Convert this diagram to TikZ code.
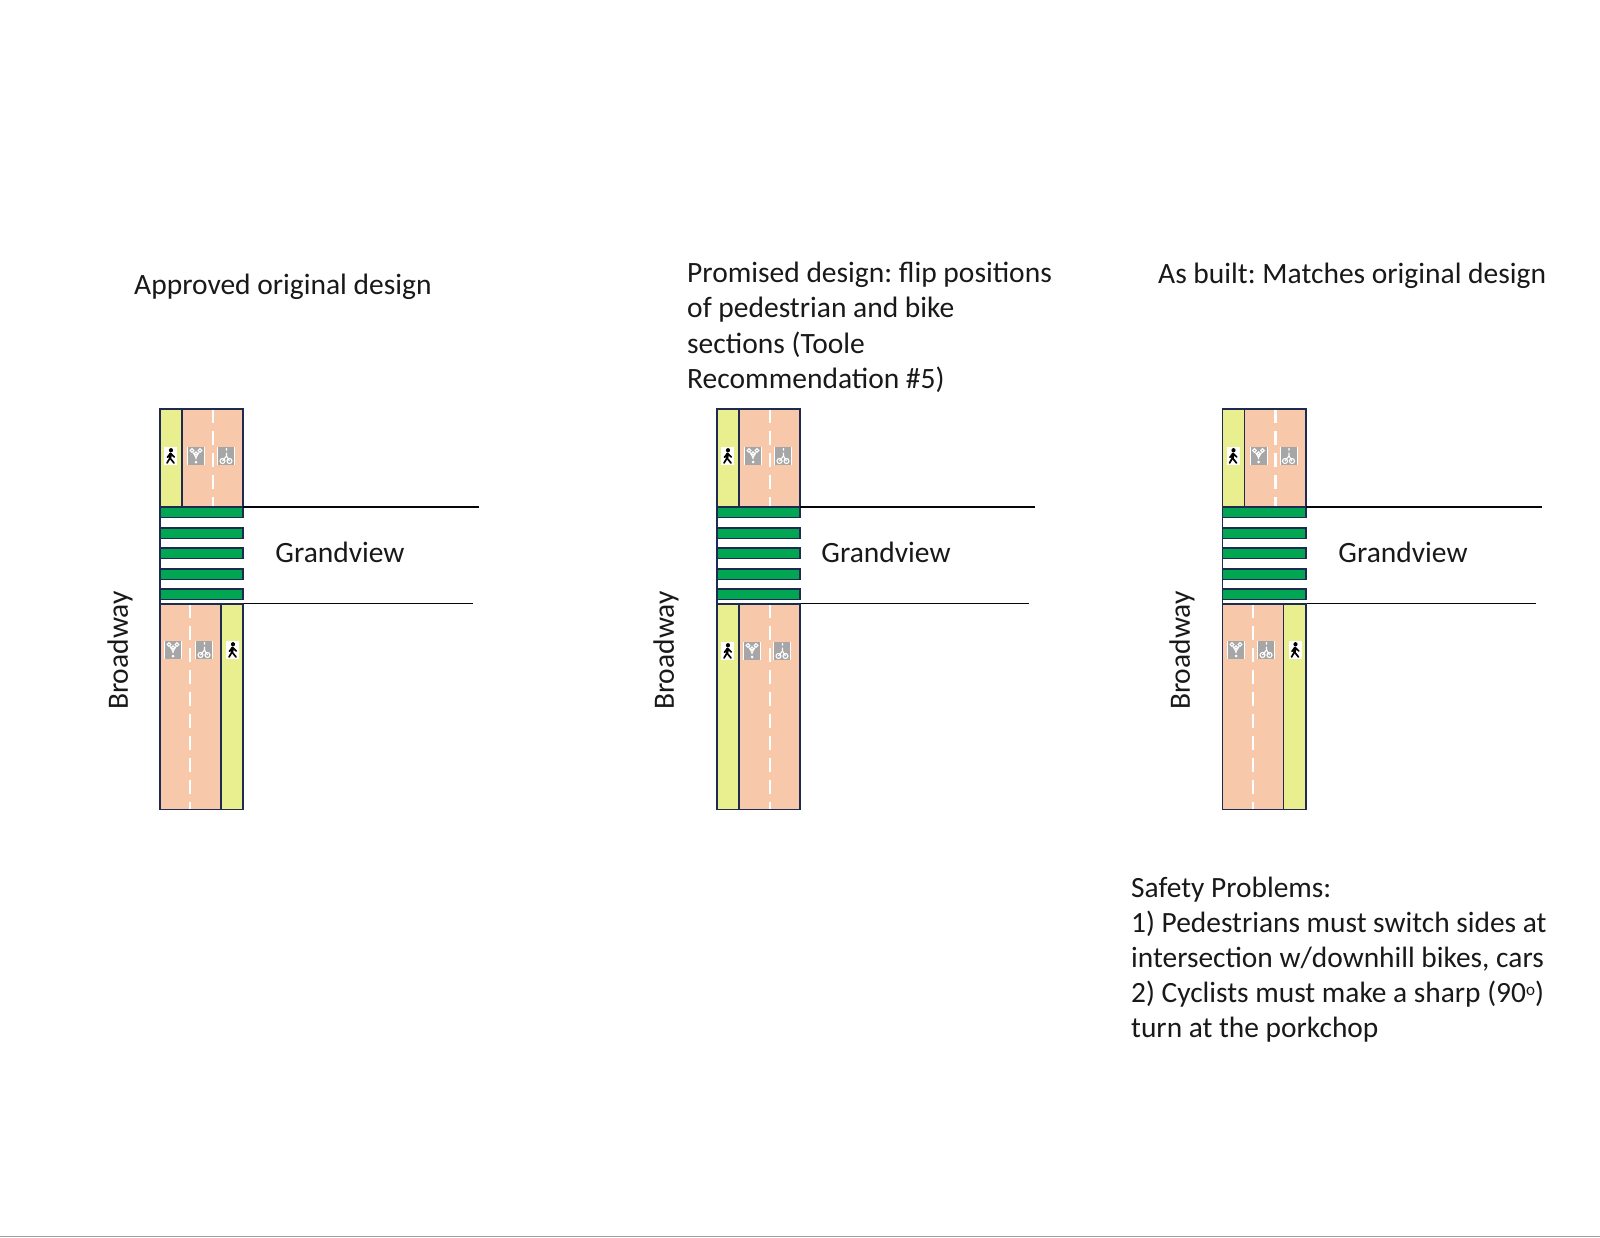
\documentclass[tikz,border=0pt]{standalone}
\usepackage{fontspec}
\setmainfont{Carlito}
\definecolor{road}{HTML}{F7C8AA}
\definecolor{walk}{HTML}{E9EE8E}
\definecolor{bar}{HTML}{00A651}
\definecolor{edge}{HTML}{1F2A50}
\definecolor{sign}{HTML}{A6A6A6}
\tikzset{
  outline/.style={draw=edge,line width=1.8pt},
  roadline/.style={draw=black!85!edge,line width=1.8pt},
  lane/.style={draw=white,line width=2.8pt,dash pattern=on 14pt off 8pt},
  crossbar/.style={fill=bar,draw=edge,line width=1.7pt},
  label/.style={inner sep=0pt,font=\fontsize{29.5}{35.2}\selectfont,text=black!90},
  para/.style={label,align=left,anchor=north west},
  signbase/.style={fill=sign,draw=none},
  glyph/.style={draw=white,line width=1.1pt}
}
% lane signs: #1 left x, #2 top y
\newcommand{\ringsign}[2]{%
  \begin{scope}[shift={(#1,#2)}]
    \fill[signbase] (0,0) rectangle (18,18);
    \draw[glyph] (5,3.5) circle (1.9) (13,3.5) circle (1.9) (9,6.5) circle (1.6);
    \draw[glyph] (6,5.5) -- (9,10.5) -- (12,5.5) (9,10.5) -- (9,12);
    \fill[white] (9,15) circle (1.5);
    \draw[white,line width=.7pt] (.5,0) -- (.5,18) (17.5,0) -- (17.5,18);
  \end{scope}}
\newcommand{\bikesign}[2]{%
  \begin{scope}[shift={(#1,#2)}]
    \fill[signbase] (0,0) rectangle (18,18);
    \draw[glyph] (5.5,14) circle (2.5) (12.5,14) circle (2.5);
    \draw[glyph] (9.5,1) -- (9.5,3.5) (9.5,5.5) -- (9.5,9) -- (5.5,14) (9.5,9) -- (12.5,14);
    \draw[white,line width=.7pt] (.5,0) -- (.5,18) (17.5,0) -- (17.5,18);
  \end{scope}}
\newcommand{\walker}[2]{%
  \begin{scope}[shift={(#1,#2)}]
    \fill[white] (0,0) rectangle (13,18);
    \fill[black] (7,3.2) circle (2.1);
    \draw[black,line width=2.8pt,line cap=round] (6.5,6.8) -- (6,10.5);
    \draw[black,line width=1.7pt,line cap=round] (6,11) -- (3,16) (6,11) -- (10,16)
      (6.5,6.5) -- (3.5,10.2) (6.5,6.5) -- (10.3,10);
  \end{scope}}
% common crossing and upper arm: #1 = x shift, #2 = upper line end, #3 = lower line end
\newcommand{\crossing}[3]{%
  \begin{scope}[xshift=#1pt]
    \fill[walk] (160,409) rectangle (182,507);
    \fill[road] (182,409) rectangle (243.3,507);
    \draw[lane] (213,409) -- (213,507);
    \draw[outline] (160,409.3) rectangle (243.3,507) (182,409) -- (182,507);
    \walker{164}{447}
    \ringsign{187}{447}
    \bikesign{217}{447}
    \foreach \t in {507,528,548,569,589}
      \draw[crossbar] (160,\t) rectangle (243.3,\t+10.5);
    \draw[outline] (160,507) -- (160,603);
    \draw[roadline] (243.3,506.8) -- (#2,506.8);
    \draw[roadline] (160,603.5) -- (#3,603.5);
  \end{scope}}
\begin{document}
\frenchspacing
\begin{tikzpicture}[x=1pt,y=-1pt]
\useasboundingbox (0,0) rectangle (1600,1237);
\fill[white] (0,0) rectangle (1600,1237);
\fill[black!38] (0,1235.6) rectangle (1600,1237);

% panel 1
\crossing{0}{478.5}{473}
\fill[road] (160,604) rectangle (221,809.5);
\fill[walk] (221,604) rectangle (243.3,809.5);
\draw[lane] (190,604) -- (190,809.5);
\draw[outline] (160,604) rectangle (243.3,809.5) (221,604) -- (221,809.5);
\ringsign{164}{641}
\bikesign{195}{641}
\walker{226}{641}

% panel 2
\crossing{557}{478}{472}
\fill[walk] (717,604) rectangle (739,809.5);
\fill[road] (739,604) rectangle (800.3,809.5);
\draw[lane] (770,604) -- (770,809.5);
\draw[outline] (717,604) rectangle (800.3,809.5) (739,604) -- (739,809.5);
\walker{721}{642}
\ringsign{743}{642}
\bikesign{773}{642}

% panel 3
\crossing{1062.5}{479.5}{473.5}
\fill[road] (1222.5,604) rectangle (1283.5,809.5);
\fill[walk] (1283.5,604) rectangle (1305.8,809.5);
\draw[lane] (1253,604) -- (1253,809.5);
\draw[outline] (1222.5,604) rectangle (1305.8,809.5) (1283.5,604) -- (1283.5,809.5);
\ringsign{1227}{641}
\bikesign{1257}{641}
\walker{1288.5}{641}

% labels
\node[label,anchor=base west] (t1) at (134,294) {Approved original design};
\node[para] (t2) at (687,262) {Promised design: flip positions\\of pedestrian and bike\\sections (Toole\\Recommendation \#5)};
\node[label,anchor=base west] (t3) at (1158,283) {As built: Matches original design};
\node[para,font=\fontsize{29.4}{35.2}\selectfont] (t4) at (1131,876.5) {Safety Problems:\\1) Pedestrians must switch sides at\\intersection w/downhill bikes, cars\\2) Cyclists must make a sharp (90\raisebox{.55ex}{\fontsize{17}{17}\selectfont o})\\turn at the porkchop};
\foreach \n/\x in {g1/340,g2/886,g3/1403}
  \node[label] (\n) at (\x,552) {Grandview};
\foreach \n/\x in {b1/120,b2/666,b3/1182}
  \node[label,rotate=90] (\n) at (\x,650.5) {Broadway};
\end{tikzpicture}
\end{document}
